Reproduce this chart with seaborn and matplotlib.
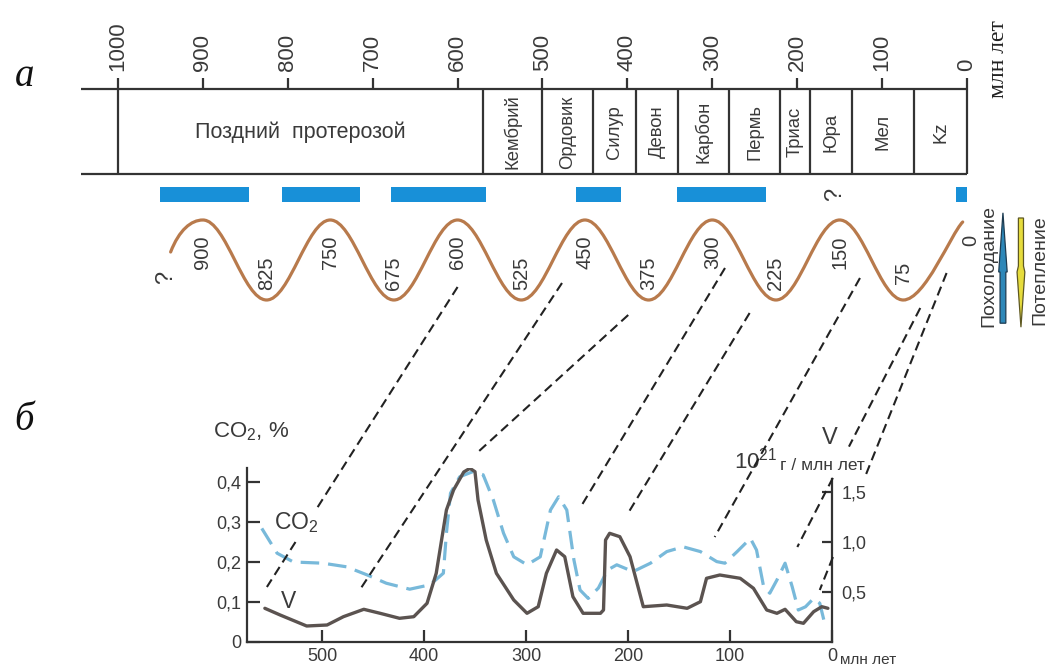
import numpy as np
import pandas as pd
import matplotlib
matplotlib.use("Agg")
import matplotlib.pyplot as plt
import seaborn as sns
from matplotlib.path import Path
from matplotlib.patches import PathPatch, Polygon
from matplotlib.lines import Line2D

# ---------------- data ----------------
# geological time scale, Myr ago
scale_ticks = [1000, 900, 800, 700, 600, 500, 400, 300, 200, 100, 0]
period_bounds = [1000, 570, 500, 440, 390, 340, 280, 220, 185, 135, 62, 0]
period_names = ["Поздний  протерозой", "Кембрий", "Ордовик", "Силур", "Девон",
                "Карбон", "Пермь", "Триас", "Юра", "Мел", "Kz"]

# glaciation intervals, Myr ago
glaciation_start = [950, 807, 678, 460, 342, 13]
glaciation_end = [846, 715, 567, 408, 237, 0]

# 150-Myr climate cycle: extremes (+1 cooling, -1 warming)
cycle_ages = [938, 900, 825, 750, 675, 600, 525, 450, 375, 300, 225, 150, 75, 5]
cycle_levels = [0.2, 1, -1, 1, -1, 1, -1, 1, -1, 1, -1, 1, -1, 0.95]
cycle_label_ages = [900, 825, 750, 675, 600, 525, 450, 375, 300, 225, 150, 75]

# CO2 content, %
co2_age = [559, 544, 528, 499, 476, 456, 437, 414, 394, 381, 378, 374, 365, 352,
           342, 332, 322, 312, 299, 286, 276, 268, 260, 253, 247, 239, 229, 220,
           211, 195, 178, 162, 146, 129, 113, 105, 93, 80, 74, 67, 61, 54, 46, 39,
           33, 26, 18, 12, 8]
co2_pct = [0.284, 0.222, 0.200, 0.197, 0.188, 0.168, 0.147, 0.132, 0.143, 0.172,
           0.272, 0.372, 0.413, 0.426, 0.418, 0.355, 0.272, 0.213, 0.193, 0.213,
           0.330, 0.363, 0.330, 0.205, 0.130, 0.109, 0.135, 0.180, 0.193, 0.176,
           0.197, 0.226, 0.238, 0.226, 0.201, 0.197, 0.226, 0.259, 0.230, 0.138,
           0.122, 0.155, 0.197, 0.138, 0.080, 0.088, 0.109, 0.097, 0.055]

# volcanic output V, 10^21 g / Myr
v_age = [556, 541, 515, 495, 479, 459, 443, 424, 410, 397, 388, 378, 371, 361,
         355, 350, 347, 339, 329, 312, 299, 288, 280, 270, 262, 254, 244, 227,
         224, 222, 218, 208, 198, 185, 162, 142, 129, 123, 110, 90, 77, 64, 54,
         46, 35, 28, 18, 10, 4]
v_rate = [0.337, 0.27, 0.16, 0.17, 0.253, 0.327, 0.287, 0.237, 0.253, 0.387,
          0.687, 1.32, 1.52, 1.70, 1.737, 1.703, 1.42, 1.02, 0.687, 0.42, 0.287,
          0.353, 0.687, 0.92, 0.853, 0.453, 0.287, 0.287, 0.32, 1.02, 1.087,
          1.053, 0.853, 0.353, 0.37, 0.337, 0.403, 0.637, 0.67, 0.637, 0.537,
          0.32, 0.287, 0.327, 0.203, 0.187, 0.303, 0.353, 0.337]

# correlation lines: cycle point -> CO2 plot point, with an optional break
link_top_age = [600, 477, 399, 285, 256, 126, 55, 24]
link_top_level = [-0.675, -0.575, -1.375, -0.2, -1.325, -0.45, -1.2, -0.325]
link_bot_age = [554, 463, 347, 247, 201, 115, 34, 12]
link_bot_co2 = [0.1375, 0.13, 0.475, 0.335, 0.3175, 0.2625, 0.2375, 0.13]
link_breaks = [(0.743, 0.85), None, None, None, None, None, (0.58, 0.711), (0.644, 0.896)]

# ---------------- style ----------------
sns.set_theme(style="white")
plt.rcParams["font.family"] = ["Liberation Sans", "DejaVu Sans"]
plt.rcParams["mathtext.fontset"] = "custom"
plt.rcParams["mathtext.rm"] = "Liberation Sans"
plt.rcParams["mathtext.it"] = "Liberation Sans:italic"
plt.rcParams["mathtext.bf"] = "Liberation Sans:bold"

INK = "#333333"
TXT = "#3a3a3a"
GLACIER = "#1890d8"
WAVE = "#b87a4c"
CO2_C = "#78b9da"
V_C = "#5b5350"
SERIF = ["Liberation Serif", "DejaVu Serif"]

fig = plt.figure(figsize=(10.51, 6.66), dpi=100)
fig.patch.set_facecolor("white")

# ---------------- panel a ----------------
ax_t = fig.add_axes([0, 0.4895, 1, 0.5105])
ax_t.set_xlim(1139, -99)
ax_t.set_ylim(-2, 6.5)
ax_t.axis("off")

BOX_TOP, BOX_BOT = 4.275, 2.15
ax_t.hlines([BOX_TOP, BOX_BOT], 1043, 0, color=INK, lw=1.6)
ax_t.vlines(period_bounds, BOX_BOT, BOX_TOP, color=INK, lw=1.6)
ax_t.vlines(scale_ticks, BOX_TOP, 4.55, color=INK, lw=1.6)
for t in scale_ticks:
    ax_t.text(t, 4.72, str(t), rotation=90, ha="center", va="bottom",
              fontsize=16, color=TXT)
ax_t.text(-37, 5.03, "млн лет", rotation=90, ha="center", va="center",
          fontsize=17, color="#222222", family=SERIF)

for i, name in enumerate(period_names):
    mid = (period_bounds[i] + period_bounds[i + 1]) / 2
    rot = 0 if i == 0 else 90
    ax_t.text(mid, 3.2, name, rotation=rot, ha="center", va="center",
              fontsize=15.5 if i == 0 else 13.3, color=TXT)

widths = [s - e for s, e in zip(glaciation_start, glaciation_end)]
ax_t.barh([1.64] * len(widths), widths, left=glaciation_end, height=0.375,
          color=GLACIER, edgecolor="none")

# climate cycle curve built from its extremes
verts = [(cycle_ages[0], cycle_levels[0])]
codes = [Path.MOVETO]
for i in range(len(cycle_ages) - 1):
    a0, l0 = cycle_ages[i], cycle_levels[i]
    a1, l1 = cycle_ages[i + 1], cycle_levels[i + 1]
    c = 0.3634 * (a1 - a0)
    if i == 0:
        p1, p2 = (a0 - 10, l0 + 0.55), (a1 - c, l1)
    elif i == len(cycle_ages) - 2:
        p1, p2 = (a0 + c, l0), (a1 + 14, l1 - 0.3)
    else:
        p1, p2 = (a0 + c, l0), (a1 - c, l1)
    verts += [p1, p2, (a1, l1)]
    codes += [Path.CURVE4] * 3
ax_t.add_patch(PathPatch(Path(verts, codes), fc="none", ec=WAVE, lw=2.3,
                         capstyle="round"))

for a, lvl in zip(cycle_label_ages, cycle_levels[1:-1]):
    y = 0.2 if lvl > 0 else -0.33
    ax_t.text(a, y, str(a), rotation=90, ha="center", va="center",
              fontsize=14.5, color=TXT)
ax_t.text(-5, 0.5, "0", rotation=90, ha="center", va="center", fontsize=14.5, color=TXT)
ax_t.text(943, -0.43, "?", rotation=90, ha="center", va="center", fontsize=17, color=TXT)
ax_t.text(155, 1.63, "?", rotation=90, ha="center", va="center", fontsize=17, color=TXT)

# cooling / warming arrows
xb = -42.4
ax_t.add_patch(Polygon([(xb, 1.18), (xb + 5, -0.3), (xb + 3.4, -0.3), (xb + 3.4, -1.58),
                        (xb - 3.4, -1.58), (xb - 3.4, -0.3), (xb - 5, -0.3)],
                       closed=True, fc="#2d87b8", ec="#1d3b50", lw=0.9))
xy = -63.6
ax_t.add_patch(Polygon([(xy - 3, 1.05), (xy + 3, 1.05), (xy + 3, -0.15), (xy + 4.6, -0.3),
                        (xy, -1.68), (xy - 4.6, -0.3), (xy - 3, -0.15)],
                       closed=True, fc="#e6dc3c", ec="#5e5822", lw=0.9))
ax_t.text(-25.5, -0.15, "Похолодание", rotation=90, ha="center", va="center",
          fontsize=14, color=TXT)
ax_t.text(-86, -0.25, "Потепление", rotation=90, ha="center", va="center",
          fontsize=14, color=TXT)
ax_t.text(1110, 4.575, "а", ha="center", va="center", fontsize=28,
          style="italic", family=SERIF, color="#111111")

# ---------------- panel b ----------------
ax_b = fig.add_axes([247 / 1051, 24 / 666, 585 / 1051, 174 / 666])
ax_v = ax_b.twinx()

sns.lineplot(x=co2_age, y=co2_pct, ax=ax_b, color=CO2_C, lw=2.3,
             linestyle=(0, (5.8, 2.8)), sort=False)
sns.lineplot(x=v_age, y=v_rate, ax=ax_v, color=V_C, lw=2.4, sort=False)
ax_b.set_xlim(573.5, 0)
ax_b.set_ylim(0, 0.435)
ax_v.set_ylim(0, 1.74)

for ax in (ax_b, ax_v):
    ax.set_xlabel("")
    ax.set_ylabel("")
    for s in ax.spines.values():
        s.set_color(INK)
        s.set_linewidth(1.6)
ax_b.spines["top"].set_visible(False)
ax_b.spines["right"].set_visible(False)
for s in ("top", "left", "bottom"):
    ax_v.spines[s].set_visible(False)
ax_v.spines["right"].set_bounds(0, 1.63)

ax_b.set_xticks([500, 400, 300, 200, 100, 0], ["500", "400", "300", "200", "100", "0"])
ax_b.set_yticks([0, 0.1, 0.2, 0.3, 0.4], ["0", "0,1", "0,2", "0,3", "0,4"])
ax_v.set_yticks([0.5, 1.0, 1.5], ["0,5", "1,0", "1,5"])
ax_b.tick_params(axis="x", direction="in", length=9, width=1.6, color=INK,
                 labelsize=13, labelcolor=TXT, pad=4, bottom=True, top=False)
ax_b.tick_params(axis="y", direction="in", length=9, width=1.6, color=INK,
                 labelsize=13, labelcolor=TXT, pad=4, left=True, right=False)
ax_v.tick_params(axis="y", direction="in", length=7, width=1.6, color=INK,
                 labelsize=13, labelcolor=TXT, pad=7, right=True, left=False)

ax_b.text(-8, -0.045, "млн лет", ha="left", va="center", fontsize=11,
          color=TXT, clip_on=False)
ax_b.text(607, 0.525, "CO$_\\mathregular{2}$, %", ha="left", va="center",
          fontsize=16, color=TXT, clip_on=False)
ax_b.text(525, 0.2975, "CO$_\\mathregular{2}$", ha="center", va="center",
          fontsize=16.5, color=TXT, clip_on=False)
ax_b.text(533, 0.1, "V", ha="center", va="center", fontsize=16.5, color=TXT)
ax_v.text(2, 2.04, "V", ha="center", va="center", fontsize=17, color=TXT,
          clip_on=False)
ax_v.text(54, 1.81, "10$^\\mathregular{21}$", ha="right", va="center",
          fontsize=16, color=TXT, clip_on=False)
ax_v.text(51, 1.77, "г / млн лет", ha="left", va="center", fontsize=12.5,
          color=TXT, clip_on=False)
ax_b.text(792, 0.555, "б", ha="center", va="center", fontsize=28,
          style="italic", family=SERIF, color="#111111", clip_on=False)

# ---------------- correlation lines ----------------
to_fig = fig.transFigure.inverted()
for ta, tl, ba, bc, br in zip(link_top_age, link_top_level, link_bot_age,
                              link_bot_co2, link_breaks):
    p0 = np.array(to_fig.transform(ax_t.transData.transform((ta, tl))))
    p1 = np.array(to_fig.transform(ax_b.transData.transform((ba, bc))))
    parts = [(0, 1)] if br is None else [(0, br[0]), (br[1], 1)]
    for t0, t1 in parts:
        a, b = p0 + (p1 - p0) * t0, p0 + (p1 - p0) * t1
        fig.add_artist(Line2D([a[0], b[0]], [a[1], b[1]], transform=fig.transFigure,
                              color="#222222", lw=1.5, linestyle=(0, (4.5, 2.6))))

fig.savefig("out.png", dpi=100, facecolor="white")
